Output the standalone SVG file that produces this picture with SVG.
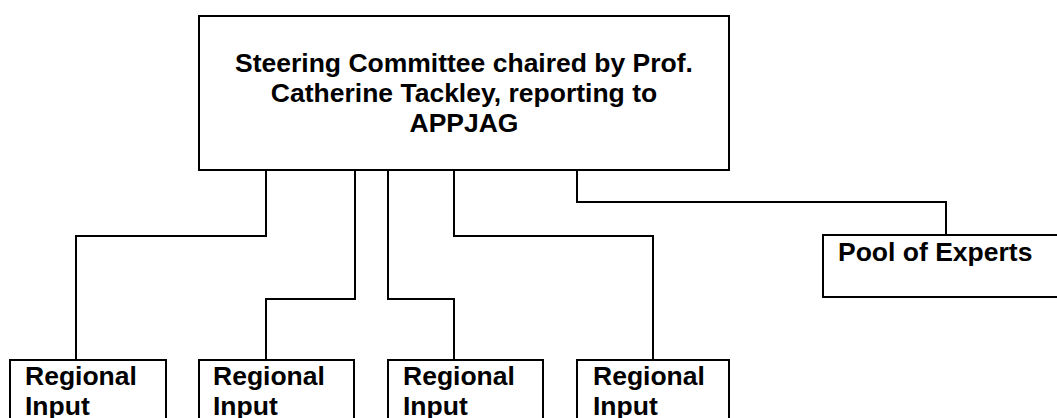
<svg xmlns="http://www.w3.org/2000/svg" width="1057" height="418" viewBox="0 0 1057 418">
<style>
.box{fill:#fff;stroke:#000;stroke-width:2}
.t{font-family:"Liberation Sans",Arial,sans-serif;font-weight:bold;font-size:26.5px;fill:#000}
.c{fill:none;stroke:#000;stroke-width:2}
</style>
<rect width="1057" height="418" fill="#fff"/>
<g id="connectors">
<polyline class="c" points="266,170 266,236 76,236 76,360"/>
<polyline class="c" points="355,170 355,299 266,299 266,360"/>
<polyline class="c" points="388,170 388,299 454,299 454,360"/>
<polyline class="c" points="454,170 454,236 653,236 653,360"/>
<polyline class="c" points="577,170 577,202 946,202 946,235"/>
</g>
<g id="steering">
<rect class="box" x="199" y="16" width="530" height="154"/>
<text class="t" x="464" y="72" text-anchor="middle">Steering Committee chaired by Prof.</text>
<text class="t" x="464" y="102" text-anchor="middle">Catherine Tackley, reporting to</text>
<text class="t" x="464" y="132" text-anchor="middle">APPJAG</text>
</g>
<g id="pool">
<rect class="box" x="823" y="235" width="260" height="62"/>
<text class="t" x="838" y="261">Pool of Experts</text>
</g>
<g id="regional1">
<rect class="box" x="10" y="360" width="156" height="80"/>
<text class="t" x="25" y="385">Regional</text>
<text class="t" x="25" y="415">Input</text>
</g>
<g id="regional2">
<rect class="box" x="199" y="360" width="155" height="80"/>
<text class="t" x="213" y="385">Regional</text>
<text class="t" x="213" y="415">Input</text>
</g>
<g id="regional3">
<rect class="box" x="388" y="360" width="155" height="80"/>
<text class="t" x="403" y="385">Regional</text>
<text class="t" x="403" y="415">Input</text>
</g>
<g id="regional4">
<rect class="box" x="577" y="360" width="152" height="80"/>
<text class="t" x="593" y="385">Regional</text>
<text class="t" x="593" y="415">Input</text>
</g>
</svg>
